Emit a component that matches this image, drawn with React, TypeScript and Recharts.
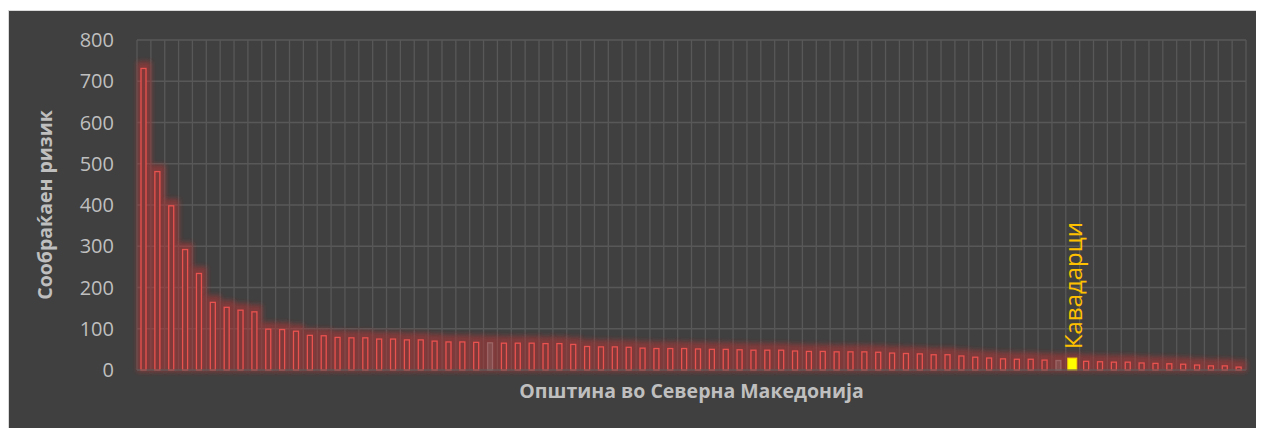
import { Bar, BarChart, CartesianGrid, LabelList, XAxis, YAxis } from "recharts";

// traffic risk per municipality, sorted descending
const riskValues = [
  731, 481, 398, 292, 234, 164, 152, 145, 141, 99,
  98, 94, 84, 83, 79, 78, 78, 75, 75, 73,
  73, 70, 68, 68, 67, 66, 65, 65, 65, 64,
  64, 62, 57, 56, 56, 55, 53, 52, 52, 52,
  51, 50, 50, 49, 48, 48, 48, 46, 45, 45,
  44, 44, 44, 43, 41, 40, 39, 37, 37, 34,
  31, 29, 27, 26, 26, 24, 23, 24, 21, 20,
  19, 19, 17, 16, 15, 14, 12, 10, 10, 7,
];

const HIGHLIGHT = "Кавадарци";
const HIGHLIGHT_RANK = 68;
const FAINT_RANKS = [26, 67];

const categories = riskValues.map((_, i) => (i + 1 === HIGHLIGHT_RANK ? HIGHLIGHT : `#${i + 1}`));
const yTicks = [0, 100, 200, 300, 400, 500, 600, 700, 800];

const data = categories.map((name, i) => ({ name, value: riskValues[i] }));

const TXT = "#bfbfbf";
const GRID = "#585858";

function GlowShape(props: any) {
  const { x, y, width, height, index } = props;
  return (
    <g>
      {index === 0 && (
        <defs>
          <filter id="barGlow" x="-50%" y="-50%" width="200%" height="200%">
            <feGaussianBlur stdDeviation="2.5" />
          </filter>
        </defs>
      )}
      <rect
        x={x - 1}
        y={y - 7}
        width={width + 2}
        height={height + 9}
        fill="#b53535"
        fillOpacity={0.55}
        filter="url(#barGlow)"
      />
    </g>
  );
}

function BarShape(props: any) {
  const { x, y, width, height, payload, index } = props;
  if (payload.name === HIGHLIGHT) {
    return <rect x={x - 2} y={y - 2} width={width + 4} height={height + 2} fill="#ffff00" stroke="#ffd200" strokeWidth={1} />;
  }
  const faint = FAINT_RANKS.includes(index + 1);
  return (
    <rect
      x={x}
      y={y}
      width={width}
      height={height}
      fill={faint ? "#8a5a5a" : "#7f3939"}
      fillOpacity={faint ? 0.6 : 1}
      stroke={faint ? "#b08080" : "#e8524f"}
      strokeOpacity={faint ? 0.55 : 1}
      strokeWidth={1.3}
    />
  );
}

function HighlightLabel(props: any) {
  const { x, y, width, value } = props;
  if (value !== HIGHLIGHT) return null;
  const cx = x + width / 2;
  const by = y - 11;
  return (
    <text
      x={cx}
      y={by}
      transform={`rotate(-90 ${cx} ${by})`}
      fill="#ffc000"
      fontSize={24}
      textAnchor="start"
      dominantBaseline="central"
    >
      {value}
    </text>
  );
}

export default function App() {
  const n = categories.length;
  return (
    <div
      style={{
        width: 1255,
        height: 417,
        marginTop: 2,
        background: "#404040",
        borderTop: "1px solid #d9d9d9",
        borderLeft: "1px solid #d9d9d9",
        fontFamily: "'Open Sans', sans-serif",
      }}
    >
      <BarChart width={1255} height={417} data={data} margin={{ top: 29, right: 18, bottom: 0, left: 0 }}>
        <CartesianGrid
          stroke={GRID}
          strokeWidth={1.3}
          verticalCoordinatesGenerator={({ offset }: any) =>
            Array.from({ length: n + 1 }, (_, i) => offset.left + (i * offset.width) / n)
          }
        />
        <XAxis
          dataKey="name"
          tick={false}
          tickLine={false}
          axisLine={{ stroke: GRID }}
          height={58}
          label={{
            content: ({ viewBox }: any) => (
              <text
                x={viewBox.x + viewBox.width / 2}
                y={viewBox.y + 20}
                fill={TXT}
                fontSize={19.5}
                fontWeight="bold"
                textAnchor="middle"
                dominantBaseline="central"
              >
                Општина во Северна Македонија
              </text>
            ),
          }}
        />
        <XAxis xAxisId="glow" dataKey="name" hide />
        <YAxis
          domain={[0, 800]}
          ticks={yTicks}
          width={128}
          axisLine={false}
          tickLine={false}
          tickSize={6}
          tickMargin={17}
          tick={{ fill: TXT, fontSize: 20 }}
          label={{
            content: ({ viewBox }: any) => {
              const cx = 35;
              const cy = viewBox.y + viewBox.height / 2;
              return (
                <text
                  x={cx}
                  y={cy}
                  transform={`rotate(-90 ${cx} ${cy})`}
                  fill={TXT}
                  fontSize={19.5}
                  fontWeight="bold"
                  textAnchor="middle"
                  dominantBaseline="central"
                >
                  Сообраќаен ризик
                </text>
              );
            },
          }}
        />
        <Bar dataKey="value" xAxisId="glow" barSize={14} shape={GlowShape} isAnimationActive={false} />
        <Bar dataKey="value" barSize={5} shape={BarShape} isAnimationActive={false}>
          <LabelList dataKey="name" content={HighlightLabel} />
        </Bar>
      </BarChart>
    </div>
  );
}
